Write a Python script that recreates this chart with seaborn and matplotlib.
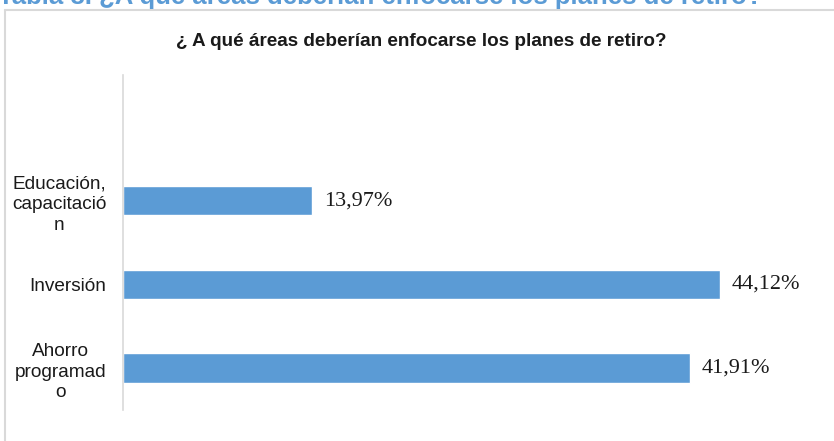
import matplotlib
matplotlib.use("Agg")
import matplotlib.pyplot as plt
import seaborn as sns
import pandas as pd
from matplotlib.lines import Line2D

# Categories (top to bottom) and their shares in percent
categories = ["Educación,\ncapacitació\nn", "Inversión", "Ahorro\nprogramad\no"]
values = [13.97, 44.12, 41.91]
value_labels = ["13,97%", "44,12%", "41,91%"]

title = "¿ A qué áreas deberían enfocarse los planes de retiro?"
caption = "Tabla 8. ¿A qué áreas deberían enfocarse los planes de retiro?"

sns.set_theme(style="white")
plt.rcParams["font.family"] = ["Liberation Sans", "DejaVu Sans"]

df = pd.DataFrame({"area": categories, "pct": values})

fig = plt.figure(figsize=(8.34, 4.41), dpi=100)
fig.patch.set_facecolor("white")

# outer chart frame (light grey box)
W, H = 834, 441
fig.add_artist(Line2D([5 / W, 5 / W], [0, 1 - 10 / H], transform=fig.transFigure,
                      color="#d9d9d9", lw=1.5))
fig.add_artist(Line2D([5 / W, 1], [1 - 10 / H, 1 - 10 / H], transform=fig.transFigure,
                      color="#d9d9d9", lw=1.5))

# document caption running off the top edge
fig.text(-2 / W, 1 - 4 / H, caption, color="#5b9bd5", fontsize=18.5, fontweight="bold",
         ha="left", va="baseline")

ax = fig.add_axes([123 / W, 31 / H, (800 - 123) / W, (410 - 75) / H])
sns.barplot(data=df, x="pct", y="area", orient="h", color="#5b9bd5",
            saturation=1, width=0.35, ax=ax)

ax.set_xlim(0, 50)
ax.set_ylim(2.5, -1.5)
ax.set_xlabel("")
ax.set_ylabel("")
ax.set_xticks([])
ax.tick_params(axis="y", length=0, pad=12)
for lbl in ax.get_yticklabels():
    lbl.set_fontsize(13.7)
    lbl.set_color("#1a1a1a")
    lbl.set_multialignment("center")
    lbl.set_linespacing(1.3)
for s in ["top", "right", "bottom"]:
    ax.spines[s].set_visible(False)
ax.spines["left"].set_color("#d9d9d9")
ax.spines["left"].set_linewidth(1.2)

for i, (v, t) in enumerate(zip(values, value_labels)):
    ax.text(v + 0.85, i, t, va="center", ha="left", fontsize=16,
            family="Liberation Serif", color="#1a1a1a")

fig.text(421 / W, 1 - 41 / H, title, ha="center", va="center",
         fontsize=13.6, fontweight="bold", color="#1a1a1a")

fig.savefig("out.png", dpi=100, facecolor="white")
